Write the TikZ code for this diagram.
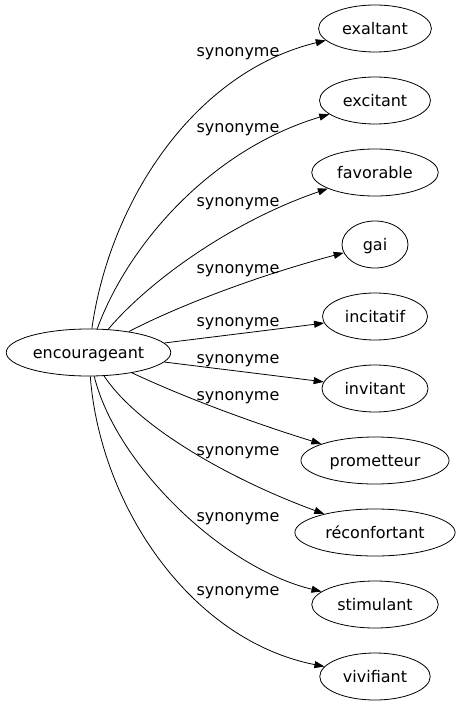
\documentclass[tikz,border=0pt]{standalone}
\usepackage{fontspec}
\setmainfont{DejaVu Sans}
\usetikzlibrary{arrows.meta,shapes.geometric}
\tikzset{
  word/.style={draw,ellipse,line width=0.8bp,inner xsep=7bp,inner ysep=0pt,
    minimum width=66bp,minimum height=47bp,text height=15bp,text depth=3bp},
  syn/.style={anchor=base,inner sep=0pt},
  rel/.style={line width=0.8bp,-{Triangle[length=10bp,width=7bp]}}
}
\begin{document}
\begin{tikzpicture}[x=1bp,y=-1bp,font=\fontsize{16bp}{19bp}\selectfont]
\useasboundingbox (0,0) rectangle (459,707);
% words
\node[word,inner xsep=2.5bp] (enc) at (88.5,352.5) {encourageant};
\node[word] (exaltant) at (375,28.5) {exaltant};
\node[word] (excitant) at (375,100.5) {excitant};
\node[word] (favorable) at (375,172.5) {favorable};
\node[word] (gai) at (375,244.5) {gai};
\node[word] (incitatif) at (375,316.5) {incitatif};
\node[word] (invitant) at (375,388.5) {invitant};
\node[word] (prometteur) at (375,460.5) {prometteur};
\node[word] (reconfortant) at (375,532.5) {réconfortant};
\node[word] (stimulant) at (375,604.5) {stimulant};
\node[word] (vivifiant) at (375,676.5) {vivifiant};
% edges
\draw[rel] (enc) .. controls (110,200) and (195,72) .. (exaltant);
\draw[rel] (enc) .. controls (128,245) and (210,150) .. (excitant);
\draw[rel] (enc) .. controls (150,280) and (233,221) .. (favorable);
\draw[rel] (enc) .. controls (180,305) and (260,275) .. (gai);
\draw[rel] (enc) .. controls (220,336) and (270,330) .. (incitatif);
\draw[rel] (enc) .. controls (220,369) and (270,375) .. (invitant);
\draw[rel] (enc) .. controls (190,400) and (260,425) .. (prometteur);
\draw[rel] (enc) .. controls (140,430) and (237,482) .. (reconfortant);
\draw[rel] (enc) .. controls (115,462) and (220,567) .. (stimulant);
\draw[rel] (enc) .. controls (100,505) and (190,640) .. (vivifiant);
% labels
\node[syn] (s1) at (238,56.5) {synonyme};
\node[syn] (s2) at (238,133) {synonyme};
\node[syn] (s3) at (238,206.5) {synonyme};
\node[syn] (s4) at (238,273) {synonyme};
\node[syn] (s5) at (238,326.5) {synonyme};
\node[syn] (s6) at (238,363) {synonyme};
\node[syn] (s7) at (238,400) {synonyme};
\node[syn] (s8) at (238,455) {synonyme};
\node[syn] (s9) at (238,521.5) {synonyme};
\node[syn] (s10) at (238,595) {synonyme};
\end{tikzpicture}
\end{document}
